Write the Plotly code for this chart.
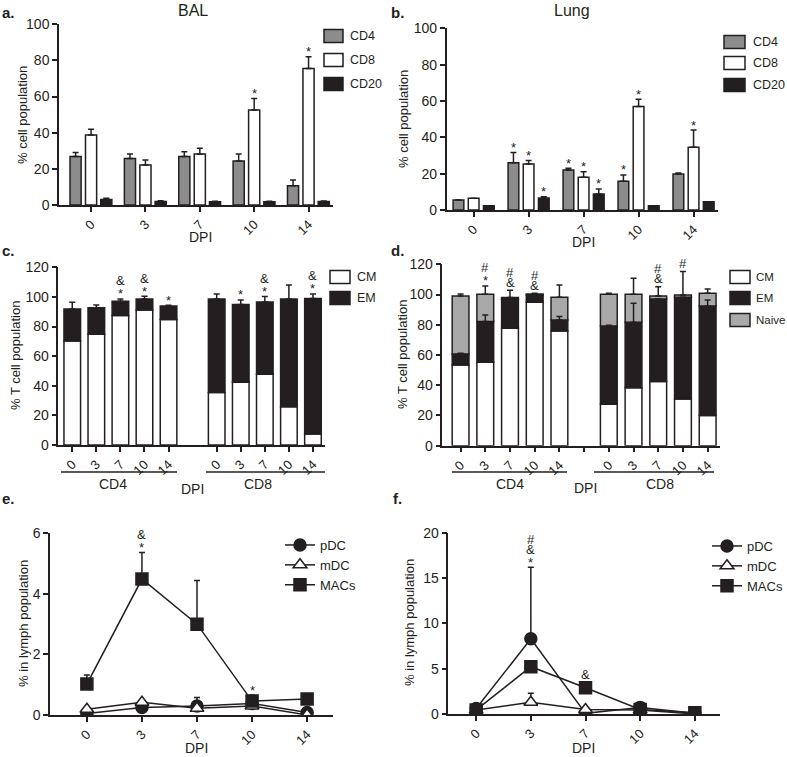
import plotly.graph_objects as go

W, H = 787, 757
FONT = 'Arial, "Liberation Sans", Helvetica, sans-serif'
INK = '#231f20'
GREY = '#8c8c8c'
LIGHT = '#a8a8a8'

dpi = ['0', '3', '7', '10', '14']

# a. BAL (% cell population, mean + upper SEM)
bal_cd4 = [26.8, 25.8, 26.8, 24.4, 10.7]
bal_cd4_err = [2.2, 2.4, 2.7, 3.8, 3.1]
bal_cd8 = [38.7, 22.1, 28.2, 52.6, 75.6]
bal_cd8_err = [3.2, 2.8, 3.2, 6.4, 6.5]
bal_cd20 = [3.1, 2.0, 1.8, 1.8, 1.9]
bal_cd20_err = [0.6, 0.3, 0.3, 0.3, 0.3]
bal_marks = [('CD8', 3, '*'), ('CD8', 4, '*')]

# b. Lung
lung_cd4 = [5.5, 26.0, 22.0, 15.8, 19.8]
lung_cd4_err = [0.0, 5.6, 1.0, 3.5, 0.6]
lung_cd8 = [6.4, 25.3, 18.0, 56.9, 34.5]
lung_cd8_err = [0.0, 1.9, 3.1, 4.0, 9.5]
lung_cd20 = [2.4, 6.6, 8.8, 2.4, 4.6]
lung_cd20_err = [0.0, 0.7, 2.8, 0.0, 0.0]
lung_marks = [('CD4', 1, '*'), ('CD8', 1, '*'), ('CD20', 1, '*'),
              ('CD4', 2, '*'), ('CD8', 2, '*'), ('CD20', 2, '*'),
              ('CD4', 3, '*'), ('CD8', 3, '*'), ('CD8', 4, '*')]

# c/d. T cell memory subsets, CD4 then CD8 at each DPI
t_bars = [f'{c} {d}' for c in ('CD4', 'CD8') for d in dpi]
t_order = t_bars[:5] + ['sep'] + t_bars[5:]

c_cm = [70.3, 74.8, 87.4, 91.2, 84.7, 35.4, 42.3, 47.7, 25.9, 7.4]
c_em = [21.6, 17.8, 9.7, 7.4, 9.2, 63.2, 52.5, 48.9, 72.7, 91.5]
c_em_err = [4.5, 2.0, 1.5, 1.8, 0.5, 3.4, 3.2, 3.6, 9.4, 3.1]
c_marks = [('CD4 7', '*&'), ('CD4 10', '*&'), ('CD4 14', '*'),
           ('CD8 3', '*'), ('CD8 7', '*&'), ('CD8 14', '*&')]

d_cm = [53.4, 55.2, 77.7, 94.9, 75.9, 27.4, 38.4, 42.4, 30.9, 19.9]
d_em = [7.3, 26.9, 19.4, 4.8, 7.3, 51.8, 43.2, 54.7, 67.3, 72.5]
d_em_err = [0.5, 4.4, 0.0, 0.0, 2.2, 0.4, 12.6, 0.0, 0.0, 4.0]
d_naive = [38.4, 18.1, 0.9, 0.7, 15.0, 21.0, 18.6, 1.9, 1.5, 8.4]
d_naive_err = [1.3, 5.5, 4.8, 0.4, 8.1, 0.6, 10.5, 6.2, 15.5, 2.9]
d_marks = [('CD4 3', '*#'), ('CD4 7', '&#'), ('CD4 10', '&#'),
           ('CD8 7', '&#'), ('CD8 10', '#')]

# e. BAL APCs (% in lymph population)
e_pdc = [0.05, 0.25, 0.30, 0.38, 0.08]
e_pdc_err = [0.0, 0.0, 0.28, 0.0, 0.0]
e_mdc = [0.19, 0.42, 0.22, 0.30, 0.0]
e_mdc_err = [0.0, 0.0, 0.0, 0.0, 0.0]
e_macs = [1.02, 4.49, 3.00, 0.46, 0.53]
e_macs_err = [0.30, 0.88, 1.44, 0.20, 0.03]
e_marks = [('MACs', 1, '*&'), ('MACs', 3, '*')]

# f. Lung APCs
f_pdc = [0.60, 8.30, 0.07, 0.73, 0.07]
f_pdc_err = [0.0, 7.90, 0.0, 0.0, 0.0]
f_mdc = [0.45, 1.30, 0.50, 0.45, 0.0]
f_mdc_err = [0.0, 1.00, 0.0, 0.0, 0.0]
f_macs = [0.45, 5.22, 2.90, 0.50, 0.15]
f_macs_err = [0.0, 0.0, 0.55, 0.0, 0.0]
f_marks = [('pDC', 1, '*&#'), ('MACs', 2, '&')]


def px(x, y):
    return x / W, 1 - y / H


fig = go.Figure()
shapes = []
notes = []


def text(x, y, s, size=13, xanchor='center', yanchor='middle', **kw):
    xx, yy = px(x, y)
    notes.append(dict(x=xx, y=yy, xref='paper', yref='paper', text=s, showarrow=False,
                      xanchor=xanchor, yanchor=yanchor,
                      font=dict(family=FONT, size=size, color=INK), **kw))


def axis_pair(n, xl, xr, ytop, ybot, xrange, yrange, dtick, xcats=None, tickvals=None, ticktext=None):
    sfx = '' if n == 1 else str(n)
    xa = dict(domain=[xl / W, xr / W], anchor='y' + sfx, range=xrange,
              showline=True, linewidth=1.5, linecolor=INK, ticks='outside', ticklen=5,
              tickwidth=1.5, tickcolor=INK, showgrid=False, zeroline=False,
              tickangle=-45, tickfont=dict(family=FONT, size=13, color=INK))
    if xcats is not None:
        xa.update(type='category', categoryorder='array', categoryarray=xcats)
    if tickvals is not None:
        xa.update(tickmode='array', tickvals=tickvals, ticktext=ticktext)
    ya = dict(domain=[1 - ybot / H, 1 - ytop / H], anchor='x' + sfx, range=yrange, dtick=dtick,
              showline=True, linewidth=1.5, linecolor=INK, ticks='outside', ticklen=5,
              tickwidth=1.5, tickcolor=INK, showgrid=False, zeroline=False,
              tickfont=dict(family=FONT, size=14, color=INK))
    fig.layout['xaxis' + sfx] = xa
    fig.layout['yaxis' + sfx] = ya
    return 'x' + sfx, 'y' + sfx


def err(vals):
    return dict(type='data', array=vals, arrayminus=[0] * len(vals), symmetric=False,
                color=INK, thickness=1.5, width=3)


def mark(xref, yref, x, ytop, symbols, step=10):
    for k, s in enumerate(symbols):
        shift = 8 + step * k - (3 if s == '*' else 0)
        notes.append(dict(x=x, y=ytop, xref=xref, yref=yref, text=s, showarrow=False,
                          xanchor='center', yanchor='middle', yshift=shift,
                          font=dict(family=FONT, size=13, color=INK)))


def box_legend(x0, x1, tx, rows, fills, labels, size=12.5):
    for cy, fc, lab in zip(rows, fills, labels):
        a, b = px(x0, cy - 6.5)
        c, d = px(x1, cy + 6.5)
        shapes.append(dict(type='rect', xref='paper', yref='paper', x0=a, x1=c, y0=d, y1=b,
                           fillcolor=fc, line=dict(color=INK, width=1.5)))
        text(tx, cy, lab, size=size, xanchor='left')


# ---------- a / b: grouped bars ----------
def grouped(xr, yr, series, marks, offs, width):
    info = {}
    for (name, vals, errs, fill), off in zip(series, offs):
        fig.add_trace(go.Bar(x=dpi, y=vals, name=name, xaxis=xr, yaxis=yr, offset=off - width / 2,
                             width=width, marker=dict(color=fill, line=dict(color=INK, width=1.5)),
                             error_y=err(errs), showlegend=False))
        info[name] = (vals, errs, off)
    for name, i, sym in marks:
        vals, errs, off = info[name]
        mark(xr, yr, i + off, vals[i] + errs[i], sym)


xa, ya = axis_pair(1, 59, 333, 24.3, 205, [-0.59, 4.45], [0, 100], 20)
grouped(xa, ya, [('CD4', bal_cd4, bal_cd4_err, GREY), ('CD8', bal_cd8, bal_cd8_err, 'white'),
                 ('CD20', bal_cd20, bal_cd20_err, INK)], bal_marks, [-0.285, 0, 0.28], 0.205)
xb, yb = axis_pair(2, 446.7, 718.3, 28.3, 210, [-0.49, 4.45], [0, 100], 20)
grouped(xb, yb, [('CD4', lung_cd4, lung_cd4_err, GREY), ('CD8', lung_cd8, lung_cd8_err, 'white'),
                 ('CD20', lung_cd20, lung_cd20_err, INK)], lung_marks, [-0.276, 0, 0.276], 0.195)

# ---------- c / d: stacked subsets ----------
def stacked(xr, yr, layers, top_err, extra_err, marks, width):
    base = [0] * len(t_bars)
    for name, vals, fill in layers:
        fig.add_trace(go.Bar(x=t_bars, y=vals, base=base, name=name, xaxis=xr, yaxis=yr,
                             width=width, marker=dict(color=fill, line=dict(color=INK, width=1.5)),
                             showlegend=False))
        base = [b + v for b, v in zip(base, vals)]
    tops = base
    fig.add_trace(go.Scatter(x=t_bars, y=tops, mode='markers', marker=dict(opacity=0),
                             error_y=err(top_err), xaxis=xr, yaxis=yr, showlegend=False,
                             hoverinfo='skip'))
    if extra_err is not None:
        lvl, errs = extra_err
        fig.add_trace(go.Scatter(x=t_bars, y=lvl, mode='markers', marker=dict(opacity=0),
                                 error_y=err(errs), xaxis=xr, yaxis=yr, showlegend=False,
                                 hoverinfo='skip'))
    for cat, sym in marks:
        i = t_bars.index(cat)
        mark(xr, yr, cat, tops[i] + top_err[i], sym)


xc, yc = axis_pair(3, 58.3, 325, 267.3, 445, [-0.58, 10.5], [0, 120], 20,
                   xcats=t_order, tickvals=t_bars, ticktext=dpi * 2)
stacked(xc, yc, [('CM', c_cm, 'white'), ('EM', c_em, INK)], c_em_err, None, c_marks, 0.69)

xd, yd = axis_pair(4, 442.3, 720, 264.3, 445.7, [-0.74, 10.5], [0, 120], 20,
                   xcats=t_order, tickvals=t_order, ticktext=dpi + [''] + dpi)
d_em_top = [a + b for a, b in zip(d_cm, d_em)]
stacked(xd, yd, [('CM', d_cm, 'white'), ('EM', d_em, INK), ('Naive', d_naive, LIGHT)],
        d_naive_err, (d_em_top, d_em_err), d_marks, 0.68)

# ---------- e / f: lines ----------
def lines(xr, yr, series, marks, legend):
    info = {}
    for name, vals, errs, sym, fill in series:
        fig.add_trace(go.Scatter(x=dpi, y=vals, name=name, xaxis=xr, yaxis=yr, mode='lines+markers',
                                 line=dict(color=INK, width=1.5),
                                 marker=dict(symbol=sym, size=12, color=fill,
                                             line=dict(color=INK, width=1.5)),
                                 error_y=err(errs), legend=legend))
        info[name] = (vals, errs)
    for name, i, sym in marks:
        vals, errs = info[name]
        mark(xr, yr, i, vals[i] + errs[i], sym)


xe, ye = axis_pair(5, 50, 333, 533.3, 715, [-0.67, 4.47], [0, 6], 2, xcats=dpi)
lines(xe, ye, [('pDC', e_pdc, e_pdc_err, 'circle', INK),
               ('mDC', e_mdc, e_mdc_err, 'triangle-up', 'white'),
               ('MACs', e_macs, e_macs_err, 'square', INK)], e_marks, 'legend')
xf, yf = axis_pair(6, 448.3, 720, 532.7, 714, [-0.51, 4.46], [0, 20], 5, xcats=dpi)
lines(xf, yf, [('pDC', f_pdc, f_pdc_err, 'circle', INK),
               ('mDC', f_mdc, f_mdc_err, 'triangle-up', 'white'),
               ('MACs', f_macs, f_macs_err, 'square', INK)], f_marks, 'legend2')

# legends
box_legend(324, 343, 348, [36, 60, 84], [GREY, 'white', INK], ['CD4', 'CD8', 'CD20'])
box_legend(724, 745, 751, [42, 63, 85], [GREY, 'white', INK], ['CD4', 'CD8', 'CD20'])
box_legend(330, 350, 355, [277, 298], ['white', INK], ['CM', 'EM'])
box_legend(730, 750, 754, [277, 298, 320], ['white', INK, LIGHT], ['CM', 'EM', 'Naive'], size=11.5)

leg = dict(bgcolor='rgba(0,0,0,0)', font=dict(family=FONT, size=13, color=INK),
           xanchor='left', yanchor='top', itemclick=False, itemdoubleclick=False)
lx, ly = px(280, 530)
fig.layout.legend = dict(leg, x=lx, y=ly)
lx, ly = px(707, 531)
fig.layout.legend2 = dict(leg, x=lx, y=ly)

# group underlines for c / d
for x0, x1 in [(61, 177), (206, 325), (452, 567), (594, 714)]:
    a, b = px(x0, 472)
    c, _ = px(x1, 472)
    shapes.append(dict(type='line', xref='paper', yref='paper', x0=a, x1=c, y0=b, y1=b,
                       line=dict(color=INK, width=1.5)))

# titles, panel letters, axis titles
text(193, 11, 'BAL', size=16)
text(572, 11, 'Lung', size=16)
for s, x, y in [('a.', 8, 12), ('b.', 397, 12), ('c.', 8, 250), ('d.', 397, 250),
                ('e.', 8, 498), ('f.', 397, 498)]:
    text(x, y, '<b>%s</b>' % s, size=15)
for x, y in [(200, 237), (583, 242), (192, 489), (585, 488), (196, 748), (583, 748)]:
    text(x, y, 'DPI', size=14)
for x, y in [(113, 484), (510, 484)]:
    text(x, y, 'CD4', size=14)
for x, y in [(258, 484), (660, 484)]:
    text(x, y, 'CD8', size=14)
for s, x, y in [('% cell population', 23, 115), ('% cell population', 403, 119),
                ('% T cell population', 15, 356), ('% T cell population', 402, 355),
                ('% in lymph population', 23, 624), ('% in lymph population', 409, 623)]:
    text(x, y, s, textangle=-90)

fig.update_layout(width=W, height=H, margin=dict(l=0, r=0, t=0, b=0, autoexpand=False),
                  paper_bgcolor='white', plot_bgcolor='white', barmode='overlay',
                  shapes=shapes, annotations=notes, font=dict(family=FONT, color=INK))
fig.write_html("out.html", config={'displayModeBar': False},
               post_script="document.body.style.margin = '0';")
